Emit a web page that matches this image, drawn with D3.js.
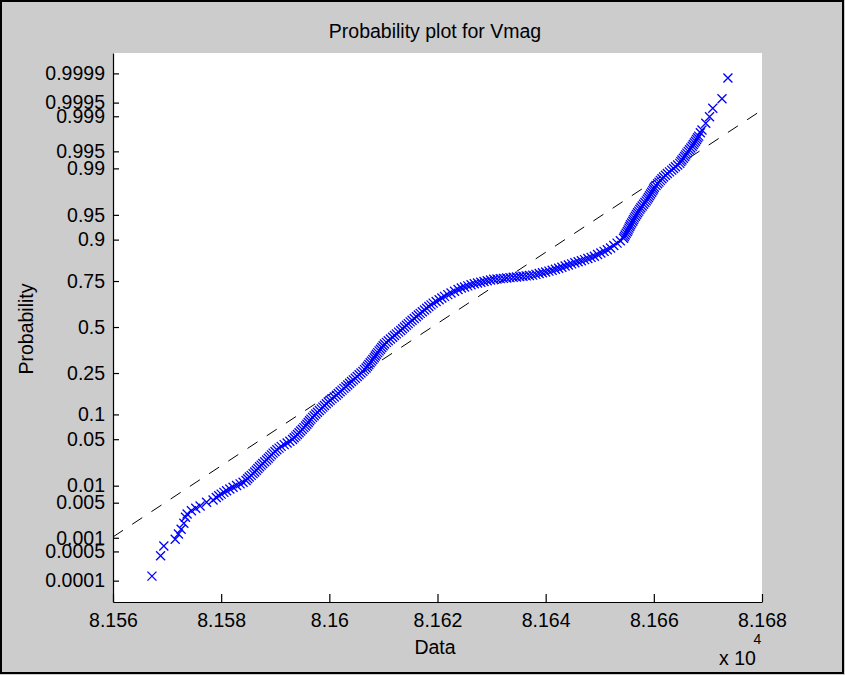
<!DOCTYPE html>
<html>
<head>
<meta charset="utf-8">
<script src="https://cdn.jsdelivr.net/npm/d3@7"></script>
<style>
  html, body { margin: 0; padding: 0; background: #cccccc; }
  svg { display: block; }
  text { font-family: "Liberation Sans", Arial, Helvetica, sans-serif; fill: #000; }
</style>
</head>
<body>
<svg id="chart" width="845" height="675"></svg>
<script>
// ---------------- DATA ----------------
const chartTitle = "Probability plot for Vmag";
const xLabel = "Data";
const yLabel = "Probability";
const xExponentBase = "x 10";
const xExponent = "4";

// Vmag values and their probability positions
const vmag = [
  // lower tail (separate markers)
  81567.2, 81568.8, 81569.4, 81571.5, 81572.1, 81572.6, 81573.1, 81573.4, 81573.7, 81574.5,
  81575.3, 81576.1, 81577.3, 81578.5,
  // rising band
  81579.1, 81580.0, 81581.0, 81582.2, 81583.5, 81584.6, 81585.2, 81585.9, 81586.5, 81587.1,
  81587.7, 81588.4, 81589.0, 81589.6, 81590.3, 81591.1, 81592.2, 81593.2, 81593.8, 81594.4,
  81595.0, 81595.6, 81596.1, 81596.6, 81597.2, 81597.8, 81598.5, 81599.1, 81599.8, 81600.5,
  81601.3, 81602.0, 81602.7, 81603.4, 81604.1, 81604.8, 81605.5, 81606.2, 81606.8, 81607.3,
  81607.8, 81608.3, 81608.7, 81609.2, 81609.7, 81610.2, 81610.9, 81611.7, 81612.4, 81613.2,
  81613.9, 81614.6, 81615.3, 81616.1, 81616.8, 81617.6, 81618.4, 81619.2, 81620.3, 81621.3,
  81622.5, 81623.8,
  // flat part
  81624.4, 81625.0, 81625.6, 81626.2, 81626.8, 81627.4, 81628.0, 81628.6, 81629.2, 81629.8,
  81630.4, 81631.0, 81631.6, 81632.2, 81632.8, 81633.4, 81634.0, 81634.6, 81635.2, 81635.8,
  81636.4, 81637.0, 81637.6, 81638.2, 81638.8, 81639.4, 81640.0, 81640.6, 81641.2, 81641.8,
  81642.4, 81643.0, 81643.6, 81644.2, 81644.8, 81645.4, 81646.0, 81646.6, 81647.2, 81647.8,
  81648.4, 81649.0, 81649.6, 81650.2, 81650.8, 81651.4, 81652.0, 81652.6, 81653.2, 81653.8,
  81654.4,
  // steep upper band
  81654.7, 81655.1, 81655.4, 81655.7, 81656.1, 81656.4, 81656.8, 81657.2, 81657.6, 81658.1,
  81658.6, 81659.0, 81659.4, 81659.8, 81660.1, 81660.7, 81661.2, 81661.8, 81662.5, 81663.3,
  81664.0, 81664.8, 81665.2, 81665.7, 81666.1, 81666.6, 81667.1, 81667.5, 81667.9, 81668.3,
  81668.6,
  // upper tail (separate markers)
  81668.9, 81669.6, 81670.3, 81670.9, 81672.6, 81673.7,
  // further readings along the dense rising band
  81579.55, 81580.5, 81581.6, 81582.85, 81584.05, 81584.9, 81585.55, 81586.2, 81586.8, 81587.4,
  81588.05, 81588.7, 81589.3, 81589.95, 81590.7, 81591.65, 81592.7, 81593.5, 81594.1, 81594.7,
  81595.3, 81595.85, 81596.35, 81596.9, 81597.5, 81598.15, 81598.8, 81599.45, 81600.15, 81600.9,
  81601.65, 81602.35, 81603.05, 81603.75, 81604.45, 81605.15, 81605.85, 81606.5, 81607.05, 81607.55,
  81608.05, 81608.5, 81608.95, 81609.45, 81609.95, 81610.55, 81611.3, 81612.05, 81612.8, 81613.55,
  81614.25, 81614.95, 81615.7, 81616.45, 81617.2, 81618.0, 81618.8, 81619.75, 81620.8, 81621.9,
  81623.15,
  // further readings along the dense steep upper band
  81654.55, 81654.9, 81655.25, 81655.55, 81655.9, 81656.25, 81656.6, 81657.0, 81657.4, 81657.85,
  81658.35, 81658.8, 81659.2, 81659.6, 81659.95, 81660.4, 81660.95, 81661.5, 81662.15, 81662.9,
  81663.65, 81664.4, 81665.0, 81665.45, 81665.9, 81666.35, 81666.85, 81667.3, 81667.7, 81668.1
];
const probability = [
  0.00013, 0.00040, 0.00066, 0.00093, 0.00120, 0.00151, 0.00201, 0.00264, 0.00306, 0.00354,
  0.00393, 0.00434, 0.00510, 0.00560,
  0.00621, 0.00714, 0.00820, 0.00939, 0.01072, 0.01222, 0.01390, 0.01578, 0.01786, 0.02018,
  0.02275, 0.0256, 0.0287, 0.0322, 0.0359, 0.0401, 0.0446, 0.0495, 0.0548, 0.0606,
  0.0668, 0.0735, 0.0808, 0.0885, 0.0968, 0.1056, 0.1151, 0.1251, 0.1357, 0.1469,
  0.1587, 0.1711, 0.1841, 0.1977, 0.2119, 0.2266, 0.2420, 0.2578, 0.2743, 0.2912,
  0.3085, 0.3264, 0.3446, 0.3632, 0.3821, 0.4013, 0.4207, 0.4404, 0.4602, 0.4801,
  0.5000, 0.5199, 0.5398, 0.5596, 0.5793, 0.5987, 0.6179, 0.6368, 0.6554, 0.6736,
  0.6915, 0.7088,
  0.7162, 0.7216, 0.7270, 0.7323, 0.7369, 0.7406, 0.7441, 0.7476, 0.7514, 0.7548,
  0.7580, 0.7595, 0.7611, 0.7623, 0.7639, 0.7654, 0.7669, 0.7685, 0.7703, 0.7719,
  0.7734, 0.7752, 0.7766, 0.7799, 0.7834, 0.7869, 0.7904, 0.7938, 0.7972, 0.8015,
  0.8056, 0.8099, 0.8143, 0.8185, 0.8227, 0.8268, 0.8309, 0.8346, 0.8386, 0.8425,
  0.8463, 0.8505, 0.8560, 0.8614, 0.8664, 0.8715, 0.8769, 0.8839, 0.8906, 0.8972,
  0.9034,
  0.9115, 0.9192, 0.9265, 0.9332, 0.9394, 0.9452, 0.9505, 0.9554, 0.9599, 0.9641,
  0.9678, 0.9713, 0.9744, 0.97725, 0.97982, 0.98214, 0.98422, 0.98610, 0.98778, 0.98928,
  0.99061, 0.99180, 0.99286, 0.99379, 0.99461, 0.99534, 0.99598, 0.99653, 0.99702, 0.99744,
  0.99781,
  0.99806, 0.99859, 0.99898, 0.99933, 0.99959, 0.99987,
  0.00666, 0.00766, 0.00878, 0.01004, 0.01145, 0.01304, 0.01482, 0.01680, 0.01900, 0.02145,
  0.0241, 0.0271, 0.0304, 0.0340, 0.0379, 0.0423, 0.0470, 0.0521, 0.0576, 0.0636,
  0.0701, 0.0771, 0.0846, 0.0926, 0.1011, 0.1103, 0.1200, 0.1303, 0.1412, 0.1527,
  0.1648, 0.1775, 0.1908, 0.2047, 0.2192, 0.2342, 0.2498, 0.2660, 0.2827, 0.2998,
  0.3174, 0.3354, 0.3538, 0.3726, 0.3917, 0.4110, 0.4305, 0.4503, 0.4701, 0.4900,
  0.5100, 0.5299, 0.5497, 0.5695, 0.5890, 0.6083, 0.6274, 0.6462, 0.6646, 0.6826,
  0.7002,
  0.9074, 0.9154, 0.9229, 0.9299, 0.9364, 0.9424, 0.9479, 0.9530, 0.9577, 0.9621,
  0.9660, 0.9696, 0.9729, 0.9759, 0.97855, 0.98100, 0.98320, 0.98518, 0.98696, 0.98855,
  0.98996, 0.99122, 0.99234, 0.99334, 0.99421, 0.99499, 0.99567, 0.99627, 0.99678, 0.99724
];

// Reference (fitted normal) line parameters
const refMean = 81619.0;
const refStd = 19.17;

// Axis ticks
const xTickValues = [81560, 81580, 81600, 81620, 81640, 81660, 81680];
const xTickLabels = ["8.156", "8.158", "8.16", "8.162", "8.164", "8.166", "8.168"];
const yTickValues = [0.0001, 0.0005, 0.001, 0.005, 0.01, 0.05, 0.1, 0.25, 0.5, 0.75, 0.9, 0.95, 0.99, 0.995, 0.999, 0.9995, 0.9999];
const yTickLabels = ["0.0001", "0.0005", "0.001", "0.005", "0.01", "0.05", "0.1", "0.25", "0.5", "0.75", "0.9", "0.95", "0.99", "0.995", "0.999", "0.9995", "0.9999"];

const xDomain = [81560, 81680];
const zDomain = [-4.032, 4.018]; // normal-quantile limits of the y axis

// ---------------- HELPERS ----------------
function probit(p) {
  const a = [-3.969683028665376e+01, 2.209460984245205e+02, -2.759285104469687e+02, 1.383577518672690e+02, -3.066479806614716e+01, 2.506628277459239e+00];
  const b = [-5.447609879822406e+01, 1.615858368580409e+02, -1.556989798598866e+02, 6.680131188771972e+01, -1.328068155288572e+01];
  const c = [-7.784894002430293e-03, -3.223964580411365e-01, -2.400758277161838e+00, -2.549732539343734e+00, 4.374664141464968e+00, 2.938163982698783e+00];
  const d = [7.784695709041462e-03, 3.224671290700398e-01, 2.445134137142996e+00, 3.754408661907416e+00];
  const pl = 0.02425, ph = 1 - pl;
  let q, r;
  if (p < pl) {
    q = Math.sqrt(-2 * Math.log(p));
    return (((((c[0]*q+c[1])*q+c[2])*q+c[3])*q+c[4])*q+c[5]) / ((((d[0]*q+d[1])*q+d[2])*q+d[3])*q+1);
  }
  if (p > ph) {
    q = Math.sqrt(-2 * Math.log(1 - p));
    return -(((((c[0]*q+c[1])*q+c[2])*q+c[3])*q+c[4])*q+c[5]) / ((((d[0]*q+d[1])*q+d[2])*q+d[3])*q+1);
  }
  q = p - 0.5; r = q * q;
  return (((((a[0]*r+a[1])*r+a[2])*r+a[3])*r+a[4])*r+a[5])*q / (((((b[0]*r+b[1])*r+b[2])*r+b[3])*r+b[4])*r+1);
}

// ---------------- LAYOUT ----------------
const W = 845, H = 675;
const plot = { left: 113, top: 53, right: 762, bottom: 602 };
const fontSize = 19.5;

const svg = d3.select("#chart");

// figure background + frame
svg.append("rect").attr("x", 0).attr("y", 0).attr("width", W).attr("height", H).attr("fill", "#cccccc");
svg.append("rect").attr("x", 1).attr("y", 1).attr("width", W - 3).attr("height", H - 3)
  .attr("fill", "none").attr("stroke", "#000").attr("stroke-width", 2);

// plot area
svg.append("rect")
  .attr("x", plot.left).attr("y", plot.top)
  .attr("width", plot.right - plot.left).attr("height", plot.bottom - plot.top)
  .attr("fill", "#ffffff");

const x = d3.scaleLinear().domain(xDomain).range([plot.left, plot.right]);
const y = d3.scaleLinear().domain(zDomain).range([plot.bottom, plot.top]);

svg.append("clipPath").attr("id", "plotclip").append("rect")
  .attr("x", plot.left).attr("y", plot.top)
  .attr("width", plot.right - plot.left).attr("height", plot.bottom - plot.top);

// reference line (dashed)
const refPts = xDomain.map(v => [v, (v - refMean) / refStd]);
svg.append("path")
  .attr("clip-path", "url(#plotclip)")
  .attr("d", d3.line().x(d => x(d[0])).y(d => y(d[1]))(refPts))
  .attr("fill", "none")
  .attr("stroke", "#000")
  .attr("stroke-width", 1)
  .attr("stroke-dasharray", "12,11");

// data markers
const pts = vmag.map((v, i) => ({ v, p: probability[i] }));
const m = 4.5;
svg.append("g").attr("clip-path", "url(#plotclip)")
  .selectAll("path.pt").data(pts).join("path")
  .attr("class", "pt")
  .attr("transform", d => `translate(${x(d.v)},${y(probit(d.p))})`)
  .attr("d", `M${-m},${-m}L${m},${m}M${-m},${m}L${m},${-m}`)
  .attr("fill", "none")
  .attr("stroke", "#0000ff")
  .attr("stroke-width", 1.3);

// axes
const yAxis = d3.axisLeft(y)
  .tickValues(yTickValues.map(probit))
  .tickFormat((d, i) => yTickLabels[i])
  .tickSizeInner(-6).tickSizeOuter(0).tickPadding(8);
const gy = svg.append("g").attr("transform", `translate(${plot.left},0)`).call(yAxis);

const xAxis = d3.axisBottom(x)
  .tickValues(xTickValues)
  .tickFormat((d, i) => xTickLabels[i])
  .tickSizeInner(-8).tickSizeOuter(0).tickPadding(11);
const gx = svg.append("g").attr("transform", `translate(0,${plot.bottom})`).call(xAxis);

[gx, gy].forEach(g => {
  g.select(".domain").attr("stroke", "#000").attr("stroke-width", 1.2);
  g.selectAll(".tick line").attr("stroke", "#000").attr("stroke-width", 1.2);
  g.selectAll(".tick text")
    .style("font-family", "'Liberation Sans', Arial, Helvetica, sans-serif")
    .style("font-size", fontSize + "px")
    .attr("fill", "#111");
});

// title
svg.append("text")
  .attr("x", 435).attr("y", 38.3)
  .attr("text-anchor", "middle")
  .style("font-size", fontSize + "px")
  .attr("fill", "#111")
  .text(chartTitle);

// x label
svg.append("text")
  .attr("x", 435).attr("y", 654)
  .attr("text-anchor", "middle")
  .style("font-size", fontSize + "px")
  .attr("fill", "#111")
  .text(xLabel);

// exponent
svg.append("text")
  .attr("x", 719).attr("y", 665)
  .style("font-size", fontSize + "px")
  .attr("fill", "#111")
  .text(xExponentBase);
svg.append("text")
  .attr("x", 753.5).attr("y", 644)
  .style("font-size", "14px")
  .attr("fill", "#111")
  .text(xExponent);

// y label
svg.append("text")
  .attr("transform", "translate(33,329) rotate(-90)")
  .attr("text-anchor", "middle")
  .style("font-size", fontSize + "px")
  .attr("fill", "#111")
  .text(yLabel);
</script>
</body>
</html>
